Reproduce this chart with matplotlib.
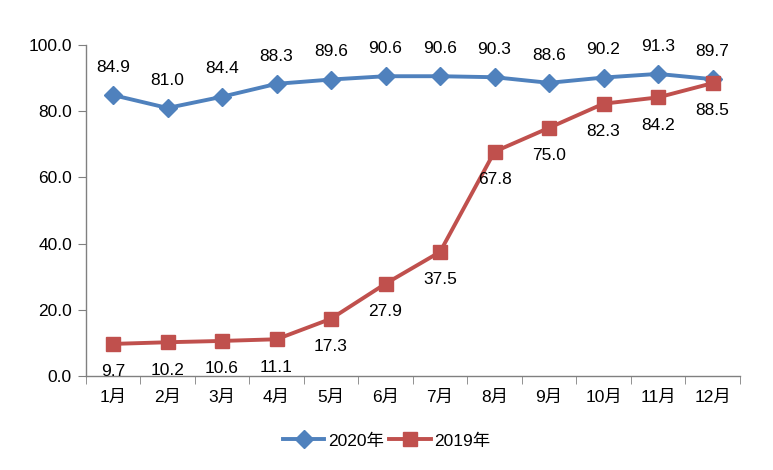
import matplotlib
matplotlib.use("Agg")
import matplotlib.pyplot as plt
from matplotlib.ticker import FixedLocator

plt.rcParams['font.family'] = ['Liberation Sans', 'Noto Sans CJK SC', 'DejaVu Sans']

months = ["1月", "2月", "3月", "4月", "5月", "6月", "7月", "8月", "9月", "10月", "11月", "12月"]
s2020 = [84.9, 81.0, 84.4, 88.3, 89.6, 90.6, 90.6, 90.3, 88.6, 90.2, 91.3, 89.7]
s2019 = [9.7, 10.2, 10.6, 11.1, 17.3, 27.9, 37.5, 67.8, 75.0, 82.3, 84.2, 88.5]
yticks = [0, 20, 40, 60, 80, 100]

blue = "#4F81BD"
red = "#C0504D"

fig = plt.figure(figsize=(7.73, 4.70), dpi=100)
ax = fig.add_axes([0.111, 0.2, 0.846, 0.704])

x = list(range(len(months)))
ax.plot(x, s2020, color=blue, lw=2.8, marker="D", ms=9, mfc=blue, mec=blue, label="2020年", zorder=3)
ax.plot(x, s2019, color=red, lw=2.8, marker="s", ms=10.5, mfc=red, mec=red, label="2019年", zorder=3)

for xi, v in zip(x, s2020):
    ax.annotate(f"{v:.1f}", (xi, v), xytext=(0, 20), textcoords="offset points",
                ha="center", va="center", fontsize=12.5, color="black")
for xi, v in zip(x, s2019):
    ax.annotate(f"{v:.1f}", (xi, v), xytext=(0, -20), textcoords="offset points",
                ha="center", va="center", fontsize=12.5, color="black")

ax.set_xlim(-0.5, len(months) - 0.5)
ax.set_ylim(0, 100)
ax.set_yticks(yticks)
ax.set_yticklabels([f"{t:.1f}" for t in yticks], fontsize=12.5)
ax.set_xticks(x)
ax.set_xticklabels(months, fontsize=12.5)
ax.tick_params(axis="x", which="major", length=0, pad=10)
ax.xaxis.set_minor_locator(FixedLocator([i - 0.5 for i in range(len(months) + 1)]))
ax.tick_params(axis="x", which="minor", length=6, color="#808080")
ax.tick_params(axis="y", length=6, color="#808080", pad=4)

for s in ["top", "right"]:
    ax.spines[s].set_visible(False)
for s in ["left", "bottom"]:
    ax.spines[s].set_color("#808080")
    ax.spines[s].set_linewidth(1)

handles, labels = ax.get_legend_handles_labels()
fig.legend(handles, labels, loc="center", bbox_to_anchor=(0.5, 0.062), ncol=2, frameon=False,
           fontsize=12.5, handlelength=2.4, columnspacing=0.3, handletextpad=0.2)

fig.savefig("out.png", dpi=100)
